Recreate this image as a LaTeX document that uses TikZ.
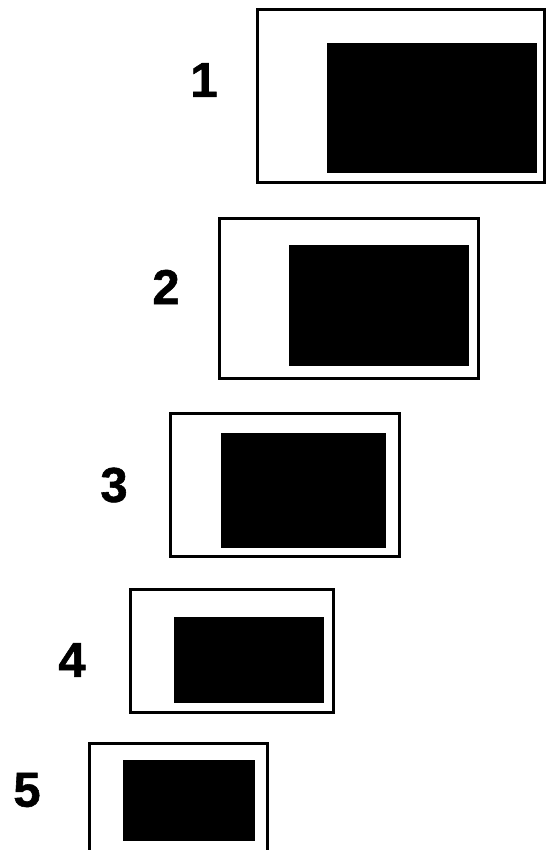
\documentclass[tikz,border=0pt]{standalone}
\usepackage{fontspec}
\setmainfont{Liberation Sans}
\newfontfamily\numfont{Liberation Sans}[UprightFont=*-Bold,FakeBold=1.2]
\tikzset{
  frame/.style={draw=black, line width=3pt, fill=white},
  screen/.style={fill=black},
  num/.style={font=\fontsize{49}{49}\numfont, inner sep=0pt, anchor=center}
}
\begin{document}
\begin{tikzpicture}[x=1pt,y=-1pt]
\useasboundingbox (0,0) rectangle (551,850);
\clip (0,0) rectangle (551,850);
\fill[white] (0,0) rectangle (551,850);
% box 1
\draw[frame] (257,10) rectangle (544,183);
\fill[screen] (327,43) rectangle (537,173);
\node[num] (n1) at (204,80) {1};
% box 2
\draw[frame] (219,219) rectangle (478,378);
\fill[screen] (289,245) rectangle (469,366);
\node[num] (n2) at (166,287) {2};
% box 3
\draw[frame] (170,413) rectangle (399,556);
\fill[screen] (221,433) rectangle (386,548);
\node[num] (n3) at (114,485) {3};
% box 4
\draw[frame] (130,589) rectangle (333,712);
\fill[screen] (174,617) rectangle (324,703);
\node[num] (n4) at (72,660) {4};
% box 5
\draw[frame] (89,743) rectangle (267,870);
\fill[screen] (123,760) rectangle (255,841);
\node[num] (n5) at (27,790) {5};
\end{tikzpicture}
\end{document}
